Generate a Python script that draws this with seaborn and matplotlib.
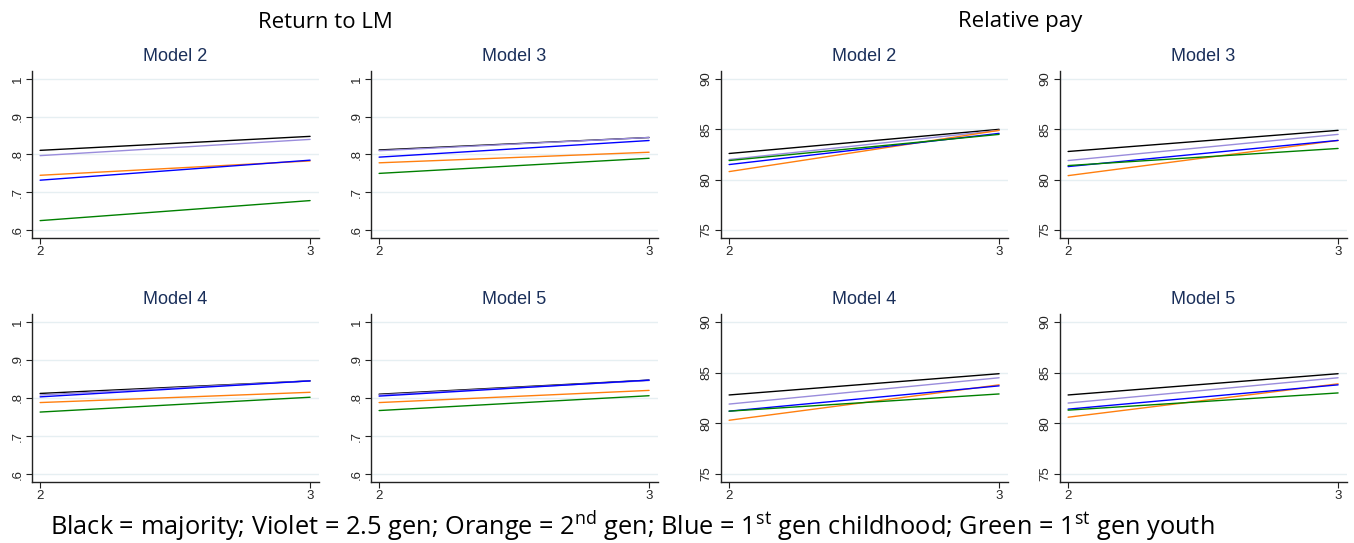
import numpy as np
import pandas as pd
import matplotlib
matplotlib.use("Agg")
import matplotlib.pyplot as plt
import seaborn as sns

# groups and colours (Stata-like)
groups = ["majority", "2.5 gen", "2nd gen", "1st gen childhood", "1st gen youth"]
colors = ["#000000", "#9a8cdc", "#ff7f0e", "#0000ff", "#008000"]
x_vals = [2, 3]
models = ["Model 2", "Model 3", "Model 4", "Model 5"]

# Return to LM: (value at 2, value at 3) per group, per model
lm_m2 = [(0.811, 0.848), (0.797, 0.840), (0.745, 0.783), (0.732, 0.785), (0.625, 0.678)]
lm_m3 = [(0.812, 0.845), (0.810, 0.845), (0.778, 0.806), (0.793, 0.837), (0.750, 0.790)]
lm_m4 = [(0.812, 0.845), (0.808, 0.845), (0.788, 0.815), (0.803, 0.845), (0.763, 0.802)]
lm_m5 = [(0.810, 0.847), (0.808, 0.846), (0.788, 0.820), (0.805, 0.847), (0.767, 0.806)]

# Relative pay
rp_m2 = [(82.6, 85.0), (82.0, 84.9), (80.8, 84.9), (81.5, 84.6), (81.9, 84.5)]
rp_m3 = [(82.8, 84.9), (81.9, 84.5), (80.4, 83.9), (81.3, 83.9), (81.4, 83.1)]
rp_m4 = [(82.8, 84.9), (81.9, 84.5), (80.3, 83.8), (81.2, 83.7), (81.2, 82.9)]
rp_m5 = [(82.8, 84.9), (82.0, 84.5), (80.6, 83.9), (81.4, 83.8), (81.3, 83.0)]

lm_ticks = [0.6, 0.7, 0.8, 0.9, 1.0]
lm_labels = [".6", ".7", ".8", ".9", "1"]
rp_ticks = [75, 80, 85, 90]
rp_labels = ["75", "80", "85", "90"]


def to_df(vals):
    rows = []
    for g, (a, b) in zip(groups, vals):
        rows.append({"x": x_vals[0], "y": a, "group": g})
        rows.append({"x": x_vals[1], "y": b, "group": g})
    return pd.DataFrame(rows)


sns.set_style("white")
plt.rcParams['font.family'] = ['Liberation Sans', 'DejaVu Sans']
plt.rcParams['mathtext.fontset'] = 'custom'
plt.rcParams['mathtext.rm'] = 'Open Sans'

W, H = 1354, 543
fig = plt.figure(figsize=(W / 100, H / 100), dpi=100)


def rect(l, t, r, b):
    return [l / W, 1 - b / H, (r - l) / W, (b - t) / H]


cols = [(32, 319), (371, 658), (721, 1008), (1060, 1347)]
rows_px = [(71, 238), (314, 482)]

panels = [
    (0, 0, lm_m2, "lm", "Model 2"), (0, 1, lm_m3, "lm", "Model 3"),
    (1, 0, lm_m4, "lm", "Model 4"), (1, 1, lm_m5, "lm", "Model 5"),
    (0, 2, rp_m2, "rp", "Model 2"), (0, 3, rp_m3, "rp", "Model 3"),
    (1, 2, rp_m4, "rp", "Model 4"), (1, 3, rp_m5, "rp", "Model 5"),
]

pal = dict(zip(groups, colors))

for r, c, vals, kind, title in panels:
    l, rr = cols[c]
    t, b = rows_px[r]
    ax = fig.add_axes(rect(l, t, rr, b))
    df = to_df(vals)
    if kind == "lm":
        ticks, labels, ylim = lm_ticks, lm_labels, (0.579, 1.021)
    else:
        ticks, labels, ylim = rp_ticks, rp_labels, (74.2, 90.8)
    for yt in ticks:
        ax.axhline(yt, color="#e6eff2", lw=1.0, zorder=0)
    sns.lineplot(data=df, x="x", y="y", hue="group", palette=pal,
                 hue_order=groups, legend=False, lw=1.0, ax=ax)
    ax.set_xlim(1.97, 3.033)
    ax.set_ylim(*ylim)
    ax.set_xticks(x_vals)
    ax.set_xticklabels(["2", "3"], fontsize=9.5)
    ax.set_yticks(ticks)
    ax.set_yticklabels(labels, fontsize=9.5, rotation=90, va="center")
    ax.set_xlabel("")
    ax.set_ylabel("")
    ax.set_title(title, fontsize=13, color="#1a2f5a", pad=7)
    for s in ["top", "right"]:
        ax.spines[s].set_visible(False)
    for s in ["left", "bottom"]:
        ax.spines[s].set_color("#222222")
        ax.spines[s].set_linewidth(1.0)
    ax.tick_params(axis="both", direction="out", length=4, width=0.8,
                   color="#222222", pad=2, left=True, bottom=True)

fig.text(325 / W, 1 - 22 / H, "Return to LM", ha="center", va="center",
         fontsize=16, family="Open Sans", color="black")
fig.text(1020 / W, 1 - 22 / H, "Relative pay", ha="center", va="center",
         fontsize=16, family="Open Sans", color="black")
fig.text(50 / W, 1 - 527 / H,
         r"Black = majority; Violet = 2.5 gen; Orange = 2$^{\mathrm{nd}}$ gen; "
         r"Blue = 1$^{\mathrm{st}}$ gen childhood; Green = 1$^{\mathrm{st}}$ gen youth",
         ha="left", va="center", fontsize=18.3, family="Open Sans", color="black")

fig.savefig("out.png", dpi=100)
